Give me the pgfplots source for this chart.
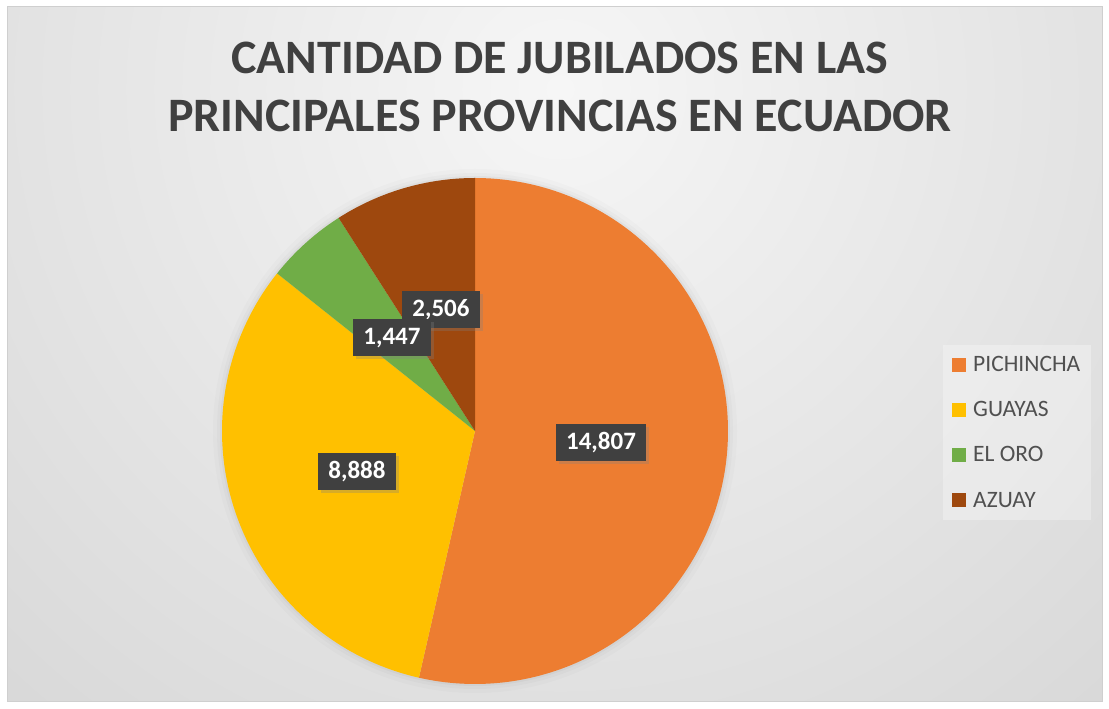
\documentclass[border=0pt]{standalone}
\usepackage{pgfplots}
\pgfplotsset{compat=1.18}
\usepackage{pgfplotstable}
\usepackage{fontspec}
\setmainfont{Carlito}
\usetikzlibrary{shadows}

\definecolor{pich}{HTML}{ED7D31}
\definecolor{guay}{HTML}{FFC000}
\definecolor{oro}{HTML}{70AD47}
\definecolor{azu}{HTML}{9E480E}
\definecolor{titlecol}{HTML}{404040}
\definecolor{legtxt}{HTML}{505050}
\definecolor{labfill}{HTML}{404040}
\definecolor{bgin}{HTML}{F6F6F6}
\definecolor{bgout}{HTML}{C4C4C4}
\definecolor{frame}{HTML}{CFCFCF}

\tikzset{lab/.style={fill=labfill, text=white,
    font=\bfseries\fontsize{25}{30}\selectfont,
    inner xsep=10pt, inner ysep=9pt, text height=16pt, text depth=3pt,
    drop shadow={shadow xshift=3pt, shadow yshift=-3pt, opacity=0.3}}}

% jubilados por provincia
\pgfplotstableread[col sep=comma]{
provincia,jubilados
PICHINCHA,14807
GUAYAS,8888
EL ORO,1447
AZUAY,2506
}\datos
\pgfplotstablegetelem{0}{jubilados}\of\datos \edef\vA{\pgfplotsretval}%
\pgfplotstablegetelem{1}{jubilados}\of\datos \edef\vB{\pgfplotsretval}%
\pgfplotstablegetelem{2}{jubilados}\of\datos \edef\vC{\pgfplotsretval}%
\pgfplotstablegetelem{3}{jubilados}\of\datos \edef\vD{\pgfplotsretval}%
\edef\tot{\fpeval{\vA+\vB+\vC+\vD}}%
% slice boundaries, clockwise from 12 o'clock
\edef\aZero{90}%
\edef\aOne{\fpeval{\aZero-360*\vA/\tot}}%
\edef\aTwo{\fpeval{\aOne-360*\vB/\tot}}%
\edef\aThree{\fpeval{\aTwo-360*\vC/\tot}}%
\edef\aFour{\fpeval{\aThree-360*\vD/\tot}}%

\begin{document}
\begin{tikzpicture}
\begin{axis}[
  scale only axis, width=1109pt, height=709pt,
  xmin=0, xmax=1109, ymin=0, ymax=709,
  hide axis,
  legend style={at={(0.8503,0.5134)}, anchor=north west,
    fill=white, fill opacity=0.3, text opacity=1, draw=none,
    font=\fontsize{23.5}{27}\selectfont, text=legtxt,
    row sep=24.5pt, inner xsep=9pt, inner ysep=9pt,
    cells={anchor=west}},
  legend image code/.code={\fill[#1, fill opacity=1] (0pt,-7pt) rectangle (14pt,7pt);
    \path (19pt,0pt);},
]
% background
\fill[white] (axis cs:0,0) rectangle (axis cs:1109,709);
\begin{scope}
  \clip (axis cs:7,7) rectangle (axis cs:1102,702);
  \shade[inner color=bgin, outer color=bgout] (axis cs:560,620) circle[radius=1400];
\end{scope}
\draw[frame, line width=1pt] (axis cs:7,7) rectangle (axis cs:1102,702);

% soft shadow of the pie
\fill[black, opacity=0.015] (axis cs:475,278) circle[radius=262];
\fill[black, opacity=0.02] (axis cs:475,278) circle[radius=258];
\fill[black, opacity=0.03] (axis cs:475,278) circle[radius=255];

\addplot[fill=pich, draw=none, domain=\aOne:\aZero, samples=160, variable=\t]
  ({475+253*cos(\t)}, {278+253*sin(\t)}) -- (axis cs:475,278) -- cycle;
\addlegendentry{PICHINCHA}
\addplot[fill=guay, draw=none, domain=\aTwo:\aOne, samples=120, variable=\t]
  ({475+253*cos(\t)}, {278+253*sin(\t)}) -- (axis cs:475,278) -- cycle;
\addlegendentry{GUAYAS}
\addplot[fill=oro, draw=none, domain=\aThree:\aTwo, samples=40, variable=\t]
  ({475+253*cos(\t)}, {278+253*sin(\t)}) -- (axis cs:475,278) -- cycle;
\addlegendentry{EL ORO}
\addplot[fill=azu, draw=none, domain=\aFour:\aThree, samples=50, variable=\t]
  ({475+253*cos(\t)}, {278+253*sin(\t)}) -- (axis cs:475,278) -- cycle;
\addlegendentry{AZUAY}

% data labels
\node[lab] at (axis cs:601,266) {14,807};
\node[lab] at (axis cs:357,237) {8,888};
\node[lab] at (axis cs:441,399) {2,506};
\node[lab] at (axis cs:392,371) {1,447};

% title
\node[anchor=base, text=titlecol, font=\bfseries\fontsize{48}{58}\selectfont]
  at (axis cs:560,635) {CANTIDAD DE JUBILADOS EN LAS};
\node[anchor=base, text=titlecol, font=\bfseries\fontsize{48}{58}\selectfont]
  at (axis cs:560,577) {PRINCIPALES PROVINCIAS EN ECUADOR};
\end{axis}
\pgfresetboundingbox
\path[use as bounding box] (current axis.south west) rectangle (current axis.north east);
\end{tikzpicture}
\end{document}
